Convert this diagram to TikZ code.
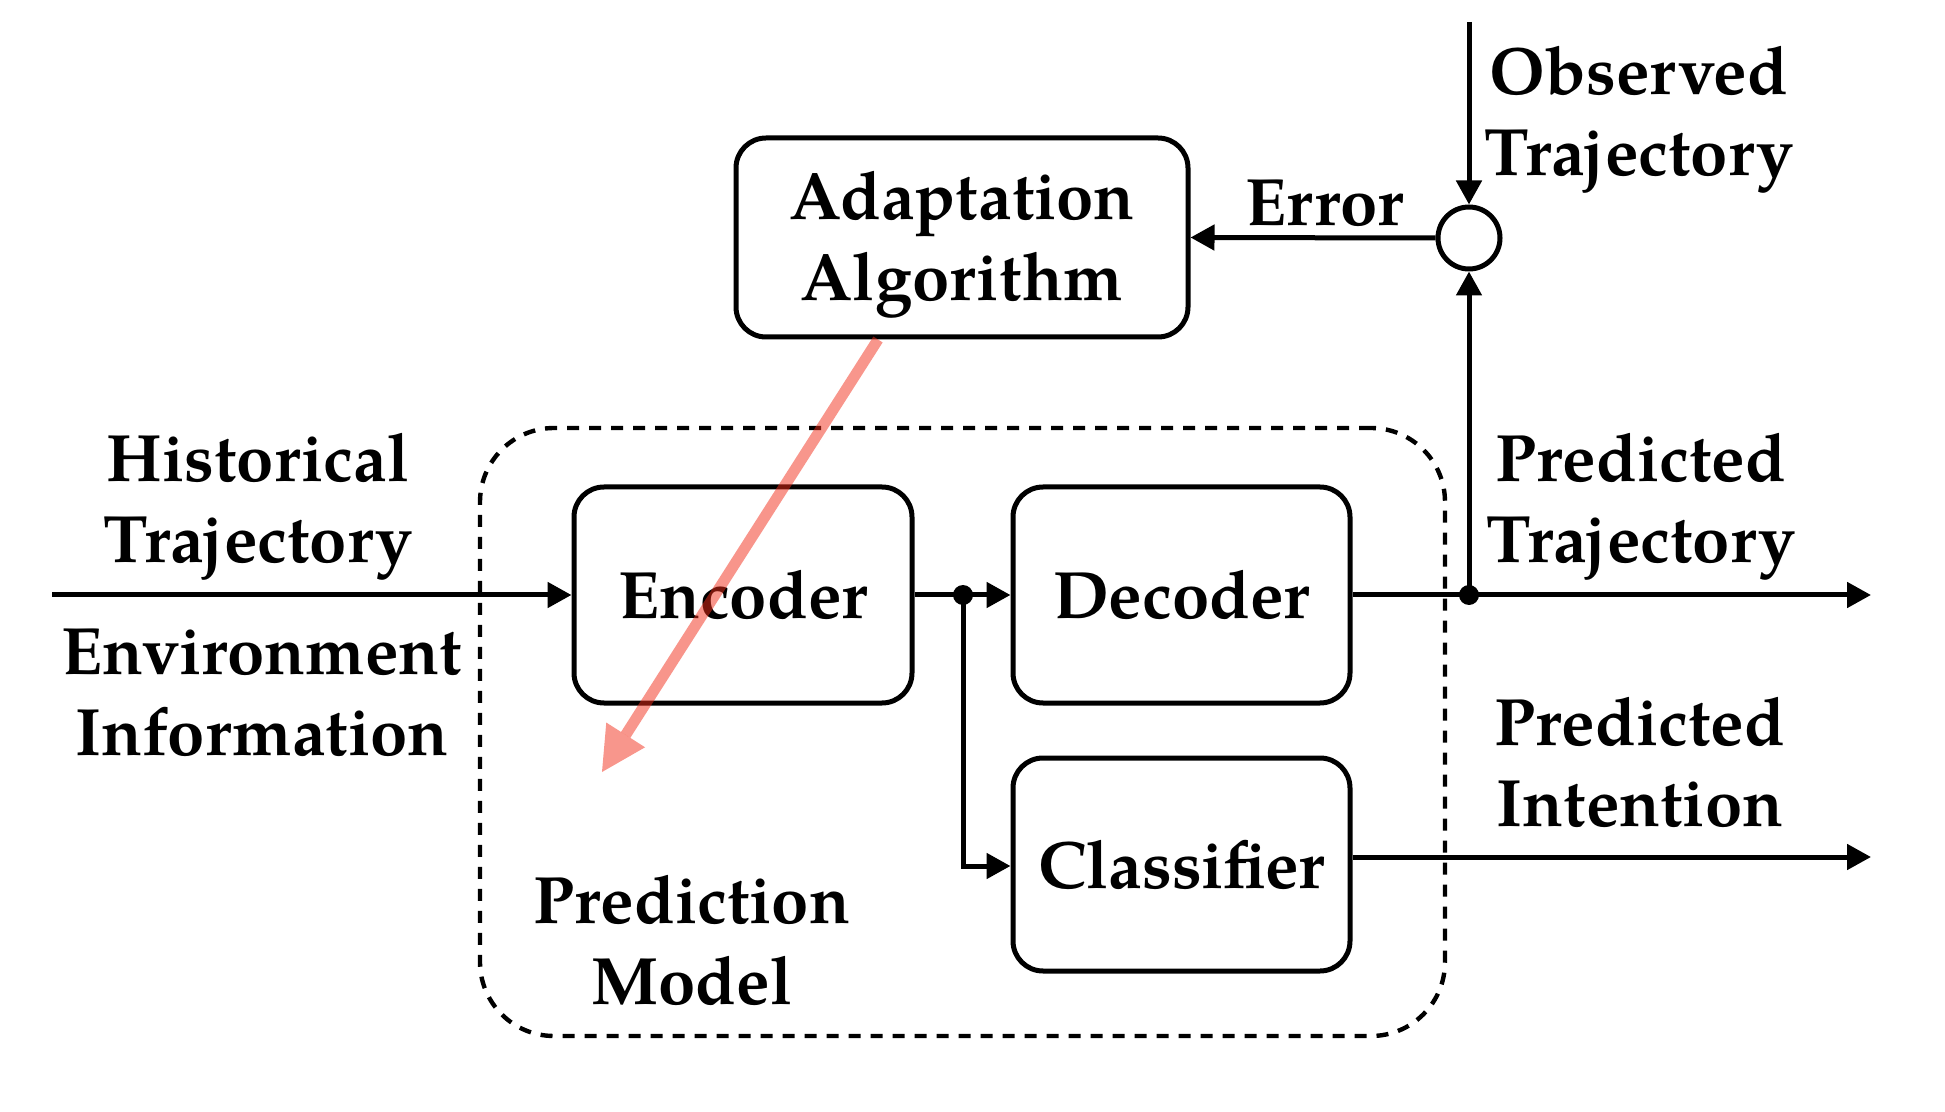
\documentclass[tikz,border=0pt]{standalone}
\usepackage{fontspec}
\setmainfont{TeX Gyre Pagella}
\usetikzlibrary{arrows.meta,calc}
\definecolor{redc}{RGB}{242,45,25}
\begin{document}
\begin{tikzpicture}[x=0.5pt,y=-0.5pt,
  every node/.style={font=\fontsize{33.5}{40.5}\selectfont\bfseries, align=center},
  blk/.style={draw, line width=2.5pt, rounded corners=15pt, inner sep=0pt, fill=white},
  conn/.style={line width=2.5pt, -{Triangle[length=12pt,width=12.5pt]}},
  jdot/.style={circle, fill=black, inner sep=0pt, minimum size=10pt}]
\useasboundingbox (0,0) rectangle (1945,1112);

% dashed prediction model box
\node[draw, line width=2.2pt, dash pattern=on 6pt off 5pt, rounded corners=37pt,
      minimum width=482.5pt, minimum height=304pt, inner sep=0pt] (pm) at (962.5,732) {};

% blocks
\node[blk, minimum width=226pt, minimum height=99.5pt] (adapt) at (962,237.5) {};
\node (adaptlbl) at (962,245) {Adaptation\\Algorithm};
\node[blk, minimum width=169pt, minimum height=108pt] (enc) at (743,595) {Encoder};
\node[blk, minimum width=168.5pt, minimum height=108pt] (dec) at (1181.5,595) {Decoder};
\node[blk, minimum width=168.5pt, minimum height=106.5pt] (cls) at (1181.5,864.5) {Classifier};
\node[draw, circle, line width=2.5pt, minimum size=31pt, inner sep=0pt] (cmp) at (1469,238) {};

% labels
\node (hist) at (258,507) {Historical\\Trajectory};
\node (env) at (262,693) {Environment\\Information};
\node (obs) at (1639,120) {Observed\\Trajectory};
\node (ptraj) at (1641,507) {Predicted\\Trajectory};
\node (pint) at (1640,762) {Predicted\\Intention};
\node (pmodel) at (692,940) {Prediction\\Model};
\node (err) at (1325,203) {Error};

% coordinates
\coordinate (in) at (52,595);
\coordinate (out1) at (1871,595);
\coordinate (out2) at (1871,857);
\coordinate (top) at (1469,22);
\node[jdot] (j1) at (963,595) {};
\node[jdot] (j2) at (1469,595) {};

% connectors
\draw[conn] (in) -- (enc.west);
\draw[conn] (enc.east) -- (dec.west);
\draw[conn] (j1.center) |- ([yshift=-0.75pt]cls.west);
\draw[conn] (dec.east) -- (out1);
\draw[conn] ([yshift=3.75pt]cls.east) -- (out2);
\draw[conn] (j2.center) -- (cmp.south);
\draw[conn] (top) -- (cmp.north);
\draw[conn] (cmp.west) -- (adapt.east);

% red adaptation arrow
\coordinate (rs) at ($(adapt.south)+(-84,0)$);
\coordinate (re) at (602,772);
\coordinate (rb) at ($(re)!22pt!(rs)$);
\coordinate (rc1) at ($(rb)!11.5pt!90:(re)$);
\coordinate (rc2) at ($(rb)!11.5pt!-90:(re)$);
\draw[line width=5.5pt, draw=redc, opacity=0.5] (rs) -- (rb);
\fill[redc, opacity=0.5] (re) -- (rc1) -- (rc2) -- cycle;
\end{tikzpicture}
\end{document}
